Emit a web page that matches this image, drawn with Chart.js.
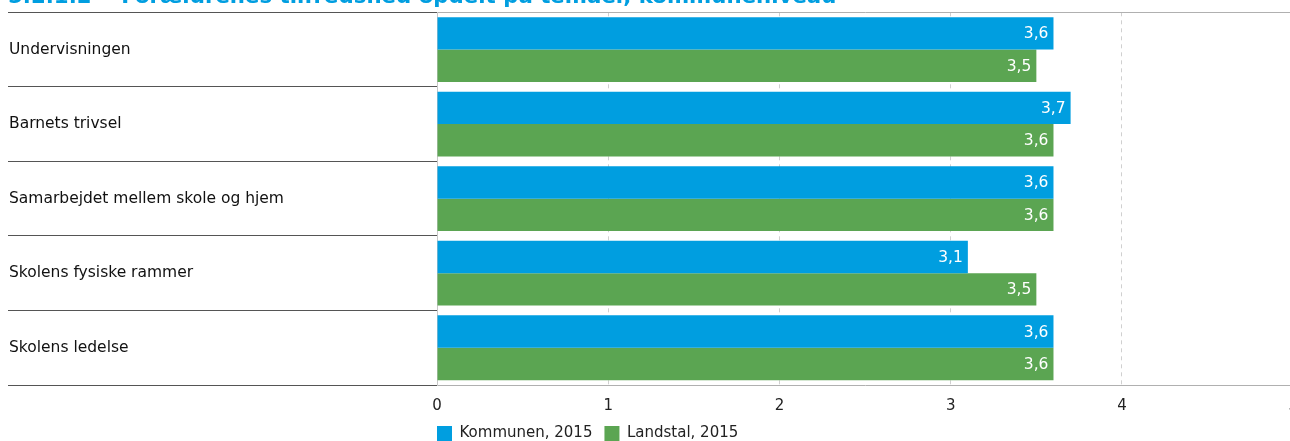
<!DOCTYPE html>
<html>
<head>
<meta charset="utf-8">
<script src="https://cdn.jsdelivr.net/npm/chart.js@4/dist/chart.umd.min.js"></script>
<style>
  html, body { margin: 0; padding: 0; background: #fff; overflow: hidden; }
  #wrap { position: relative; width: 1310px; height: 441px; }
  #title { position: absolute; left: 8px; top: -17px; font: bold 21.3px "DejaVu Sans", sans-serif; color: #009ee0; white-space: pre; }
  canvas { position: absolute; left: 0; top: 0; }
</style>
</head>
<body>
<div id="wrap">
  <canvas id="myChart" width="1310" height="441"></canvas>
  <div id="title">5.2.1.2    Forældrenes tilfredshed opdelt på temaer, kommuneniveau</div>
</div>
<script>
const categories = ['Undervisningen', 'Barnets trivsel', 'Samarbejdet mellem skole og hjem', 'Skolens fysiske rammer', 'Skolens ledelse'];
const kommunen = [3.6, 3.7, 3.6, 3.1, 3.6];
const landstal = [3.5, 3.6, 3.6, 3.5, 3.6];
const xTicks = [0, 1, 2, 3, 4, 5];

const font = '"DejaVu Sans", Verdana, sans-serif';

// hvide tal inde i enden af hver søjle
const valueLabels = {
    id: 'valueLabels',
    afterDatasetsDraw(chart) {
        const ctx = chart.ctx;
        ctx.save();
        ctx.fillStyle = '#fff';
        ctx.font = '15.5px ' + font;
        ctx.textAlign = 'right';
        ctx.textBaseline = 'middle';
        chart.data.datasets.forEach((ds, i) => {
            chart.getDatasetMeta(i).data.forEach((bar, j) => {
                ctx.fillText(ds.data[j].toFixed(1).replace('.', ','), bar.x - 5, bar.y + 1);
            });
        });
        ctx.restore();
    }
};

// legenden skal starte lige ved 0-linjen
const legendShift = {
    id: 'legendShift',
    afterLayout(chart) {
        chart.legend.left -= 12;
        chart.legend.right -= 12;
    }
};

const ctx = document.getElementById('myChart').getContext('2d');
const conf = {
    type: 'bar',
    data: {
        labels: categories,
        datasets: [
            { label: 'Kommunen, 2015', data: kommunen, backgroundColor: '#009ee0' },
            { label: 'Landstal, 2015', data: landstal, backgroundColor: '#5ba552' }
        ]
    },
    options: {
        indexAxis: 'y',
        responsive: false,
        animation: false,
        layout: { padding: { left: 9, top: 10, right: 0, bottom: -10 } },
        categoryPercentage: 0.87,
        barPercentage: 1,
        scales: {
            x: {
                min: 0,
                max: 5,
                afterBuildTicks: s => { s.ticks = xTicks.map(v => ({ value: v })); },
                afterFit: s => { s.height = 29; },
                grid: {
                    color: c => (c.index === 0 || c.index === xTicks.length - 1) ? 'transparent' : '#d0d0d0',
                    drawTicks: false
                },
                border: { color: '#b0b0b0', dash: [4, 4], width: 1 },
                ticks: { color: '#222', font: { family: font, size: 15 }, padding: 12 }
            },
            y: {
                afterFit: s => { s.width = 428; },
                grid: {
                    offset: true,
                    tickLength: 429,
                    tickColor: '#555',
                    color: c => (c.index === 0 || c.index === categories.length) ? '#b0b0b0' : 'transparent'
                },
                border: { color: '#c8c8c8' },
                ticks: { crossAlign: 'far', color: '#111', font: { family: font, size: 15.5 } }
            }
        },
        plugins: {
            legend: {
                position: 'bottom',
                align: 'start',
                fullSize: false,
                labels: { boxWidth: 15, boxHeight: 15, padding: 12, color: '#222', font: { family: font, size: 15 } }
            },
            tooltip: { enabled: false }
        }
    },
    plugins: [valueLabels, legendShift]
};
const myChart = new Chart(ctx, conf);
</script>
</body>
</html>
